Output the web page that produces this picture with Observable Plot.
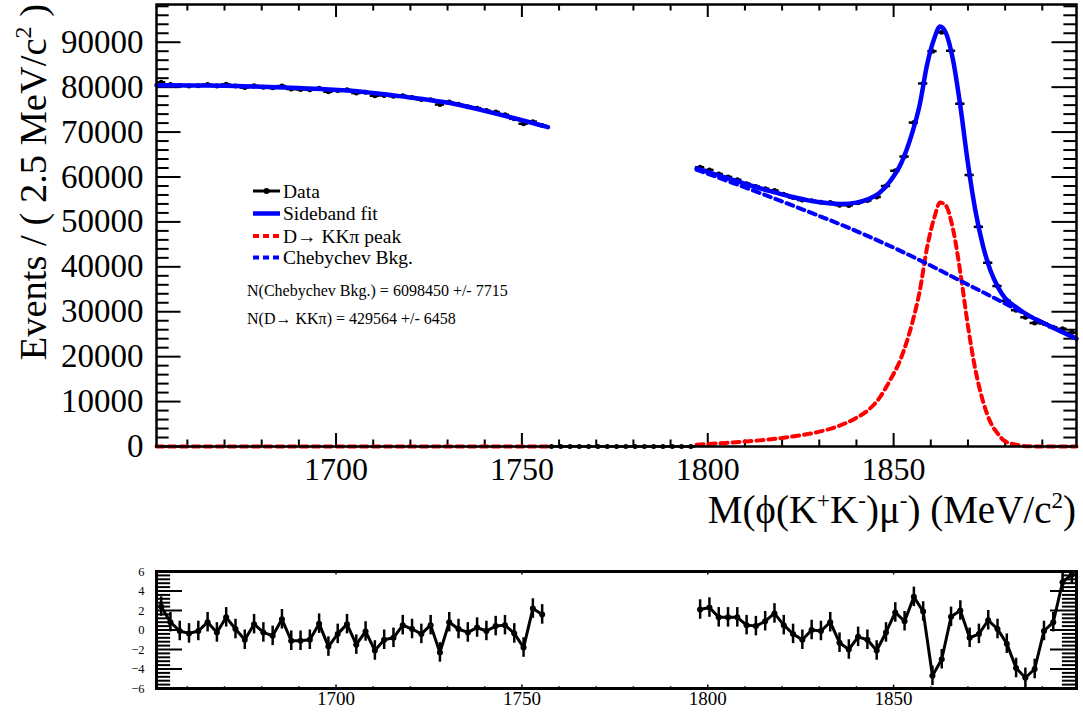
<!DOCTYPE html>
<html><head><meta charset="utf-8">
<script src="https://cdn.jsdelivr.net/npm/d3@7"></script>
<script src="https://cdn.jsdelivr.net/npm/@observablehq/plot@0.6"></script>
<style>
html,body{margin:0;padding:0;background:#fff;}
#wrap{position:relative;width:1083px;height:716px;overflow:hidden;font-family:"Liberation Serif","Times New Roman",serif;}
#main{position:absolute;left:0;top:0;}
#pull{position:absolute;left:0;top:540px;}
#overlay{position:absolute;left:0;top:0;pointer-events:none;}
#overlay text{font-family:"Liberation Serif","Times New Roman",serif;fill:#000;}
</style></head><body>
<div id="wrap"><div id="main"></div><div id="pull"></div>
<svg id="overlay" width="1083" height="716">
  <text transform="translate(46,4) rotate(-90)" text-anchor="end" font-size="38.5">Events / ( 2.5 MeV/c<tspan dy="-15" font-size="24">2</tspan><tspan dy="15"> )</tspan></text>
  <text x="1076" y="523" text-anchor="end" font-size="39">M(ϕ(K<tspan dy="-15" font-size="23">+</tspan><tspan dy="15">K</tspan><tspan dy="-15" font-size="23">-</tspan><tspan dy="15">)μ</tspan><tspan dy="-15" font-size="23">-</tspan><tspan dy="15">) (MeV/c</tspan><tspan dy="-15" font-size="23">2</tspan><tspan dy="15">)</tspan></text>
  <g id="legend"></g>
</svg>
</div>
<script>
// ---------- data ----------
const massLeft = [1652.95,1655.45,1657.95,1660.45,1662.95,1665.45,1667.95,1670.45,1672.95,1675.45,1677.95,1680.45,1682.95,1685.45,1687.95,1690.45,1692.95,1695.45,1697.95,1700.45,1702.95,1705.45,1707.95,1710.45,1712.95,1715.45,1717.95,1720.45,1722.95,1725.45,1727.95,1730.45,1732.95,1735.45,1737.95,1740.45,1742.95,1745.45,1747.95,1750.45,1752.95,1755.45];
const countsLeft = [81080,80610,80350,80270,80330,80570,80250,80650,80270,79900,80300,80000,79840,80260,79580,79470,79400,79760,78980,79240,79410,78680,78850,78070,78150,77980,78070,77670,77240,77200,76130,76670,76180,75630,75330,74780,74470,73860,72950,71860,72310,71480];
const pullLeft = [2.4,0.8,-0.1,-0.35,-0.1,0.8,-0.25,1.3,0.1,-1.0,0.6,-0.25,-0.6,1.1,-1.1,-1.1,-1.0,0.65,-1.7,-0.4,0.6,-1.5,-0.15,-2.1,-1.0,-0.8,0.5,0.1,-0.4,0.5,-2.3,0.8,0.1,-0.25,0.25,-0.1,0.4,0.5,-0.35,-1.8,2.2,1.6];

const massGap = [1757.95,1760.45,1762.95,1765.45,1767.95,1770.45,1772.95,1775.45,1777.95,1780.45,1782.95,1785.45,1787.95,1790.45,1792.95,1795.45];
const countsGap = [0,0,0,0,0,0,0,0,0,0,0,0,0,0,0,0];

const massRight = [1797.95,1800.45,1802.95,1805.45,1807.95,1810.45,1812.95,1815.45,1817.95,1820.45,1822.95,1825.45,1827.95,1830.45,1832.95,1835.45,1837.95,1840.45,1842.95,1845.45,1847.95,1850.45,1852.95,1855.45,1857.95,1860.45,1862.95,1865.45,1867.95,1870.45,1872.95,1875.45,1877.95,1880.45,1882.95,1885.45,1887.95,1890.45,1892.95,1895.45,1897.95];
const countsRight = [62170,61570,60670,60020,59370,58520,57870,57390,57000,56160,55440,54850,54690,54370,54340,53730,53680,54240,54760,55560,57990,61380,64560,72110,80820,88000,92200,88100,76310,60440,48910,40900,35720,32450,30340,28760,27500,27380,26550,26210,25360];
const pullRight = [2.1,2.3,1.3,1.3,1.3,0.5,0.4,0.9,1.7,0.5,-0.4,-1.0,0.0,-0.1,0.8,-1.3,-2.0,-0.7,-1.0,-2.1,-0.25,1.8,0.9,3.4,1.9,-4.7,-3.0,1.35,2.0,-0.8,-0.4,1.0,0.1,-1.4,-3.9,-4.9,-4.0,-0.1,0.8,4.9,5.7];

// sideband fit (total), left and right
const fitLeftMass = [1651.7,1665,1677,1690,1704,1717,1731,1744,1757];
const fitLeftVal  = [80400,80350,80150,79800,79200,78000,76400,73900,71100];
const fitRightMass = [1797,1802,1807,1812,1817,1822,1827,1832,1836,1840,1843,1846,1849,1852,1855,1857,1859,1861,1862.5,1864,1866,1868,1870,1872,1874,1876,1878,1880,1883,1886,1890,1895,1899.2];
const fitRightVal  = [61900,60600,59300,58000,56800,55700,54800,54200,54000,54300,55000,56300,59000,63000,69800,76000,85000,91000,93500,92200,86000,75500,63000,52500,44800,39300,35600,33000,31000,29300,27600,25600,24000];
// D -> KK pi peak component
const peakLeftMass = [1651.7,1757];
const peakLeftVal  = [0,0];
const peakRightMass = [1797,1805,1810,1815,1820,1825,1830,1835,1840,1843,1846,1849,1852,1855,1857,1859,1861,1862.5,1864,1866,1868,1870,1872,1874,1876,1878,1880,1883,1886,1890,1899.2];
const peakRightVal  = [400,800,1100,1450,1900,2500,3300,4500,6400,8000,10600,14700,19700,27500,34500,44300,51100,54300,53700,48300,38500,26800,17100,10200,5500,2900,1150,420,60,0,0];
// Chebychev background
const bkgMass = [1797,1807,1817,1827,1837,1847,1857,1867,1877,1887,1899.2];
const bkgVal  = [61600,58600,55500,52300,49000,45400,41500,37300,33100,28900,24000];

// axes / ticks
const xDomain = [1651.7, 1899.2];
const yMax = 98400;
const xMajor = [1700,1750,1800,1850];
const xMinor = [1660,1670,1680,1690,1710,1720,1730,1740,1760,1770,1780,1790,1810,1820,1830,1840,1860,1870,1880,1890];
const yMajor = [0,10000,20000,30000,40000,50000,60000,70000,80000,90000];
const yMinor = [2000,4000,6000,8000,12000,14000,16000,18000,22000,24000,26000,28000,32000,34000,36000,38000,42000,44000,46000,48000,52000,54000,56000,58000,62000,64000,66000,68000,72000,74000,76000,78000,82000,84000,86000,88000,92000,94000,96000,98000];
const pullMajor = [-6,-4,-2,0,2,4,6];
const pullMajorTicks = [-4,-2,0,2,4];
const pullMinor = [-5.6,-5.2,-4.8,-4.4,-3.6,-3.2,-2.8,-2.4,-1.6,-1.2,-0.8,-0.4,0.4,0.8,1.2,1.6,2.4,2.8,3.2,3.6,4.4,4.8,5.2,5.6];

const legendItems = ["Data","Sideband fit","D\u2192 KK\u03c0 peak","Chebychev Bkg."];
const annotations = ["N(Chebychev Bkg.) = 6098450 +/- 7715","N(D\u2192 KK\u03c0) = 429564 +/- 6458"];

// ---------- tables ----------
const zip = (ms, vs, extra) => ms.map((m, i) => ({m, v: vs[i], ...(extra || {})}));
const dataPts = [...zip(massLeft, countsLeft), ...zip(massGap, countsGap), ...zip(massRight, countsRight)];
const fitL = zip(fitLeftMass, fitLeftVal), fitR = zip(fitRightMass, fitRightVal);
const pkL = zip(peakLeftMass, peakLeftVal), pkR = zip(peakRightMass, peakRightVal);
const bkg = zip(bkgMass, bkgVal);
const pulls = [...zip(massLeft, pullLeft, {s: "L"}), ...zip(massRight, pullRight, {s: "R"})];
const halfBin = 1.25;

const serif = '"Liberation Serif","Times New Roman",serif';
const BLUE = "#0000ff", RED = "#ff0000";

// tick lengths (data units)
const xTickMaj = 2900, xTickMin = 1450;   // vertical ticks on x axes (counts)
const yTickMaj = 6.6, yTickMin = 3.4;     // horizontal ticks on y axes (MeV)

const main = Plot.plot({
  width: 1083, height: 540,
  marginLeft: 156, marginRight: 7, marginTop: 4, marginBottom: 94,
  style: {fontFamily: serif, fontSize: "33px", color: "#000", background: "transparent"},
  x: {domain: xDomain},
  y: {domain: [0, yMax]},
  marks: [
    Plot.axisX(xMajor, {anchor: "bottom", tickSize: 0, tickPadding: 11, label: null, fontSize: 32, tickFormat: d => String(d)}),
    Plot.axisY(yMajor, {anchor: "left", tickSize: 0, tickPadding: 13, label: null, fontSize: 33, tickFormat: d => String(d)}),
    // inward ticks, bottom/top
    Plot.ruleX(xMajor, {x: d => d, y1: 0, y2: xTickMaj, strokeWidth: 2}),
    Plot.ruleX(xMinor, {x: d => d, y1: 0, y2: xTickMin, strokeWidth: 2}),
    Plot.ruleX(xMajor, {x: d => d, y1: yMax - xTickMaj, y2: yMax, strokeWidth: 2}),
    Plot.ruleX(xMinor, {x: d => d, y1: yMax - xTickMin, y2: yMax, strokeWidth: 2}),
    // inward ticks, left/right
    Plot.ruleY(yMajor, {y: d => d, x1: xDomain[0], x2: xDomain[0] + yTickMaj, strokeWidth: 2}),
    Plot.ruleY(yMinor, {y: d => d, x1: xDomain[0], x2: xDomain[0] + yTickMin, strokeWidth: 2}),
    Plot.ruleY(yMajor, {y: d => d, x1: xDomain[1] - yTickMaj, x2: xDomain[1], strokeWidth: 2}),
    Plot.ruleY(yMinor, {y: d => d, x1: xDomain[1] - yTickMin, x2: xDomain[1], strokeWidth: 2}),
    // data
    Plot.ruleY(dataPts, {y: "v", x1: d => d.m - halfBin, x2: d => d.m + halfBin, stroke: "#000", strokeWidth: 2.5}),
    Plot.dot(dataPts, {x: "m", y: "v", r: 2.5, fill: "#000", stroke: "none"}),
    // components
    Plot.line(pkL, {x: "m", y: "v", stroke: RED, strokeWidth: 4, strokeDasharray: "7,5"}),
    Plot.line(pkR, {x: "m", y: "v", stroke: RED, strokeWidth: 4, strokeDasharray: "7,5", curve: "monotone-x"}),
    Plot.line(bkg, {x: "m", y: "v", stroke: BLUE, strokeWidth: 4, strokeDasharray: "7,5", curve: "monotone-x"}),
    Plot.line(fitL, {x: "m", y: "v", stroke: BLUE, strokeWidth: 4.5, curve: "monotone-x"}),
    Plot.line(fitR, {x: "m", y: "v", stroke: BLUE, strokeWidth: 4.5, curve: "monotone-x"}),
    Plot.frame({stroke: "#000", strokeWidth: 2.5})
  ]
});
document.getElementById("main").appendChild(main);

const pTickMaj = 7.0, pTickMin = 3.8;     // MeV
const pxTickMaj = 0.35, pxTickMin = 0.18; // pull units
const pull = Plot.plot({
  width: 1083, height: 176,
  marginLeft: 156, marginRight: 7, marginTop: 31, marginBottom: 28,
  style: {fontFamily: serif, fontSize: "19px", color: "#000", background: "transparent"},
  x: {domain: xDomain},
  y: {domain: [-6, 6]},
  marks: [
    Plot.axisX(xMajor, {anchor: "bottom", tickSize: 0, tickPadding: 3, label: null, fontSize: 19, tickFormat: d => String(d)}),
    Plot.axisY(pullMajor, {anchor: "left", tickSize: 0, tickPadding: 12, label: null, fontSize: 12.5, tickFormat: d => d < 0 ? "\u2212" + Math.abs(d) : String(d)}),
    Plot.ruleX(xMajor, {x: d => d, y1: -6, y2: -6 + pxTickMaj, strokeWidth: 1.5}),
    Plot.ruleX(xMinor, {x: d => d, y1: -6, y2: -6 + pxTickMin, strokeWidth: 1.5}),
    Plot.ruleX(xMajor, {x: d => d, y1: 6 - pxTickMaj, y2: 6, strokeWidth: 1.5}),
    Plot.ruleX(xMinor, {x: d => d, y1: 6 - pxTickMin, y2: 6, strokeWidth: 1.5}),
    Plot.ruleY(pullMajorTicks, {y: d => d, x1: xDomain[0], x2: xDomain[0] + pTickMaj, strokeWidth: 2}),
    Plot.ruleY(pullMinor, {y: d => d, x1: xDomain[0], x2: xDomain[0] + pTickMin, strokeWidth: 2}),
    Plot.ruleY(pullMajorTicks, {y: d => d, x1: xDomain[1] - pTickMaj, x2: xDomain[1], strokeWidth: 2}),
    Plot.ruleY(pullMinor, {y: d => d, x1: xDomain[1] - pTickMin, x2: xDomain[1], strokeWidth: 2}),
    Plot.ruleX(pulls, {x: "m", y1: d => d.v - 1, y2: d => d.v + 1, stroke: "#000", strokeWidth: 2.5, clip: true}),
    Plot.ruleY(pulls, {y: "v", x1: d => d.m - 0.6, x2: d => d.m + 0.6, stroke: "#000", strokeWidth: 2, clip: true}),
    Plot.line(pulls, {x: "m", y: "v", z: "s", stroke: "#000", strokeWidth: 3}),
    Plot.dot(pulls, {x: "m", y: "v", r: 3, fill: "#000", stroke: "none"}),
    Plot.frame({stroke: "#000", strokeWidth: 3})
  ]
});
document.getElementById("pull").appendChild(pull);

// ---------- legend & annotations ----------
const lg = d3.select("#legend");
const rowsY = [191, 213.5, 236, 257.5];
const styles = [
  {stroke: "#000", dash: null, w: 3, dot: true},
  {stroke: BLUE, dash: null, w: 4.5},
  {stroke: RED, dash: "6,4", w: 4},
  {stroke: BLUE, dash: "6,4", w: 4}
];
legendItems.forEach((t, i) => {
  const s = styles[i], cy = rowsY[i];
  lg.append("line").attr("x1", 253).attr("x2", 280).attr("y1", cy).attr("y2", cy)
    .attr("stroke", s.stroke).attr("stroke-width", s.w).attr("stroke-dasharray", s.dash);
  if (s.dot) lg.append("circle").attr("cx", 266.5).attr("cy", cy).attr("r", 3).attr("fill", "#000");
  lg.append("text").attr("x", 283).attr("y", cy + 6.5).attr("font-size", 19.5).text(t);
});
const annY = [296, 324];
annotations.forEach((t, i) => {
  lg.append("text").attr("x", 247).attr("y", annY[i]).attr("font-size", 16).text(t);
});
</script>
</body></html>
